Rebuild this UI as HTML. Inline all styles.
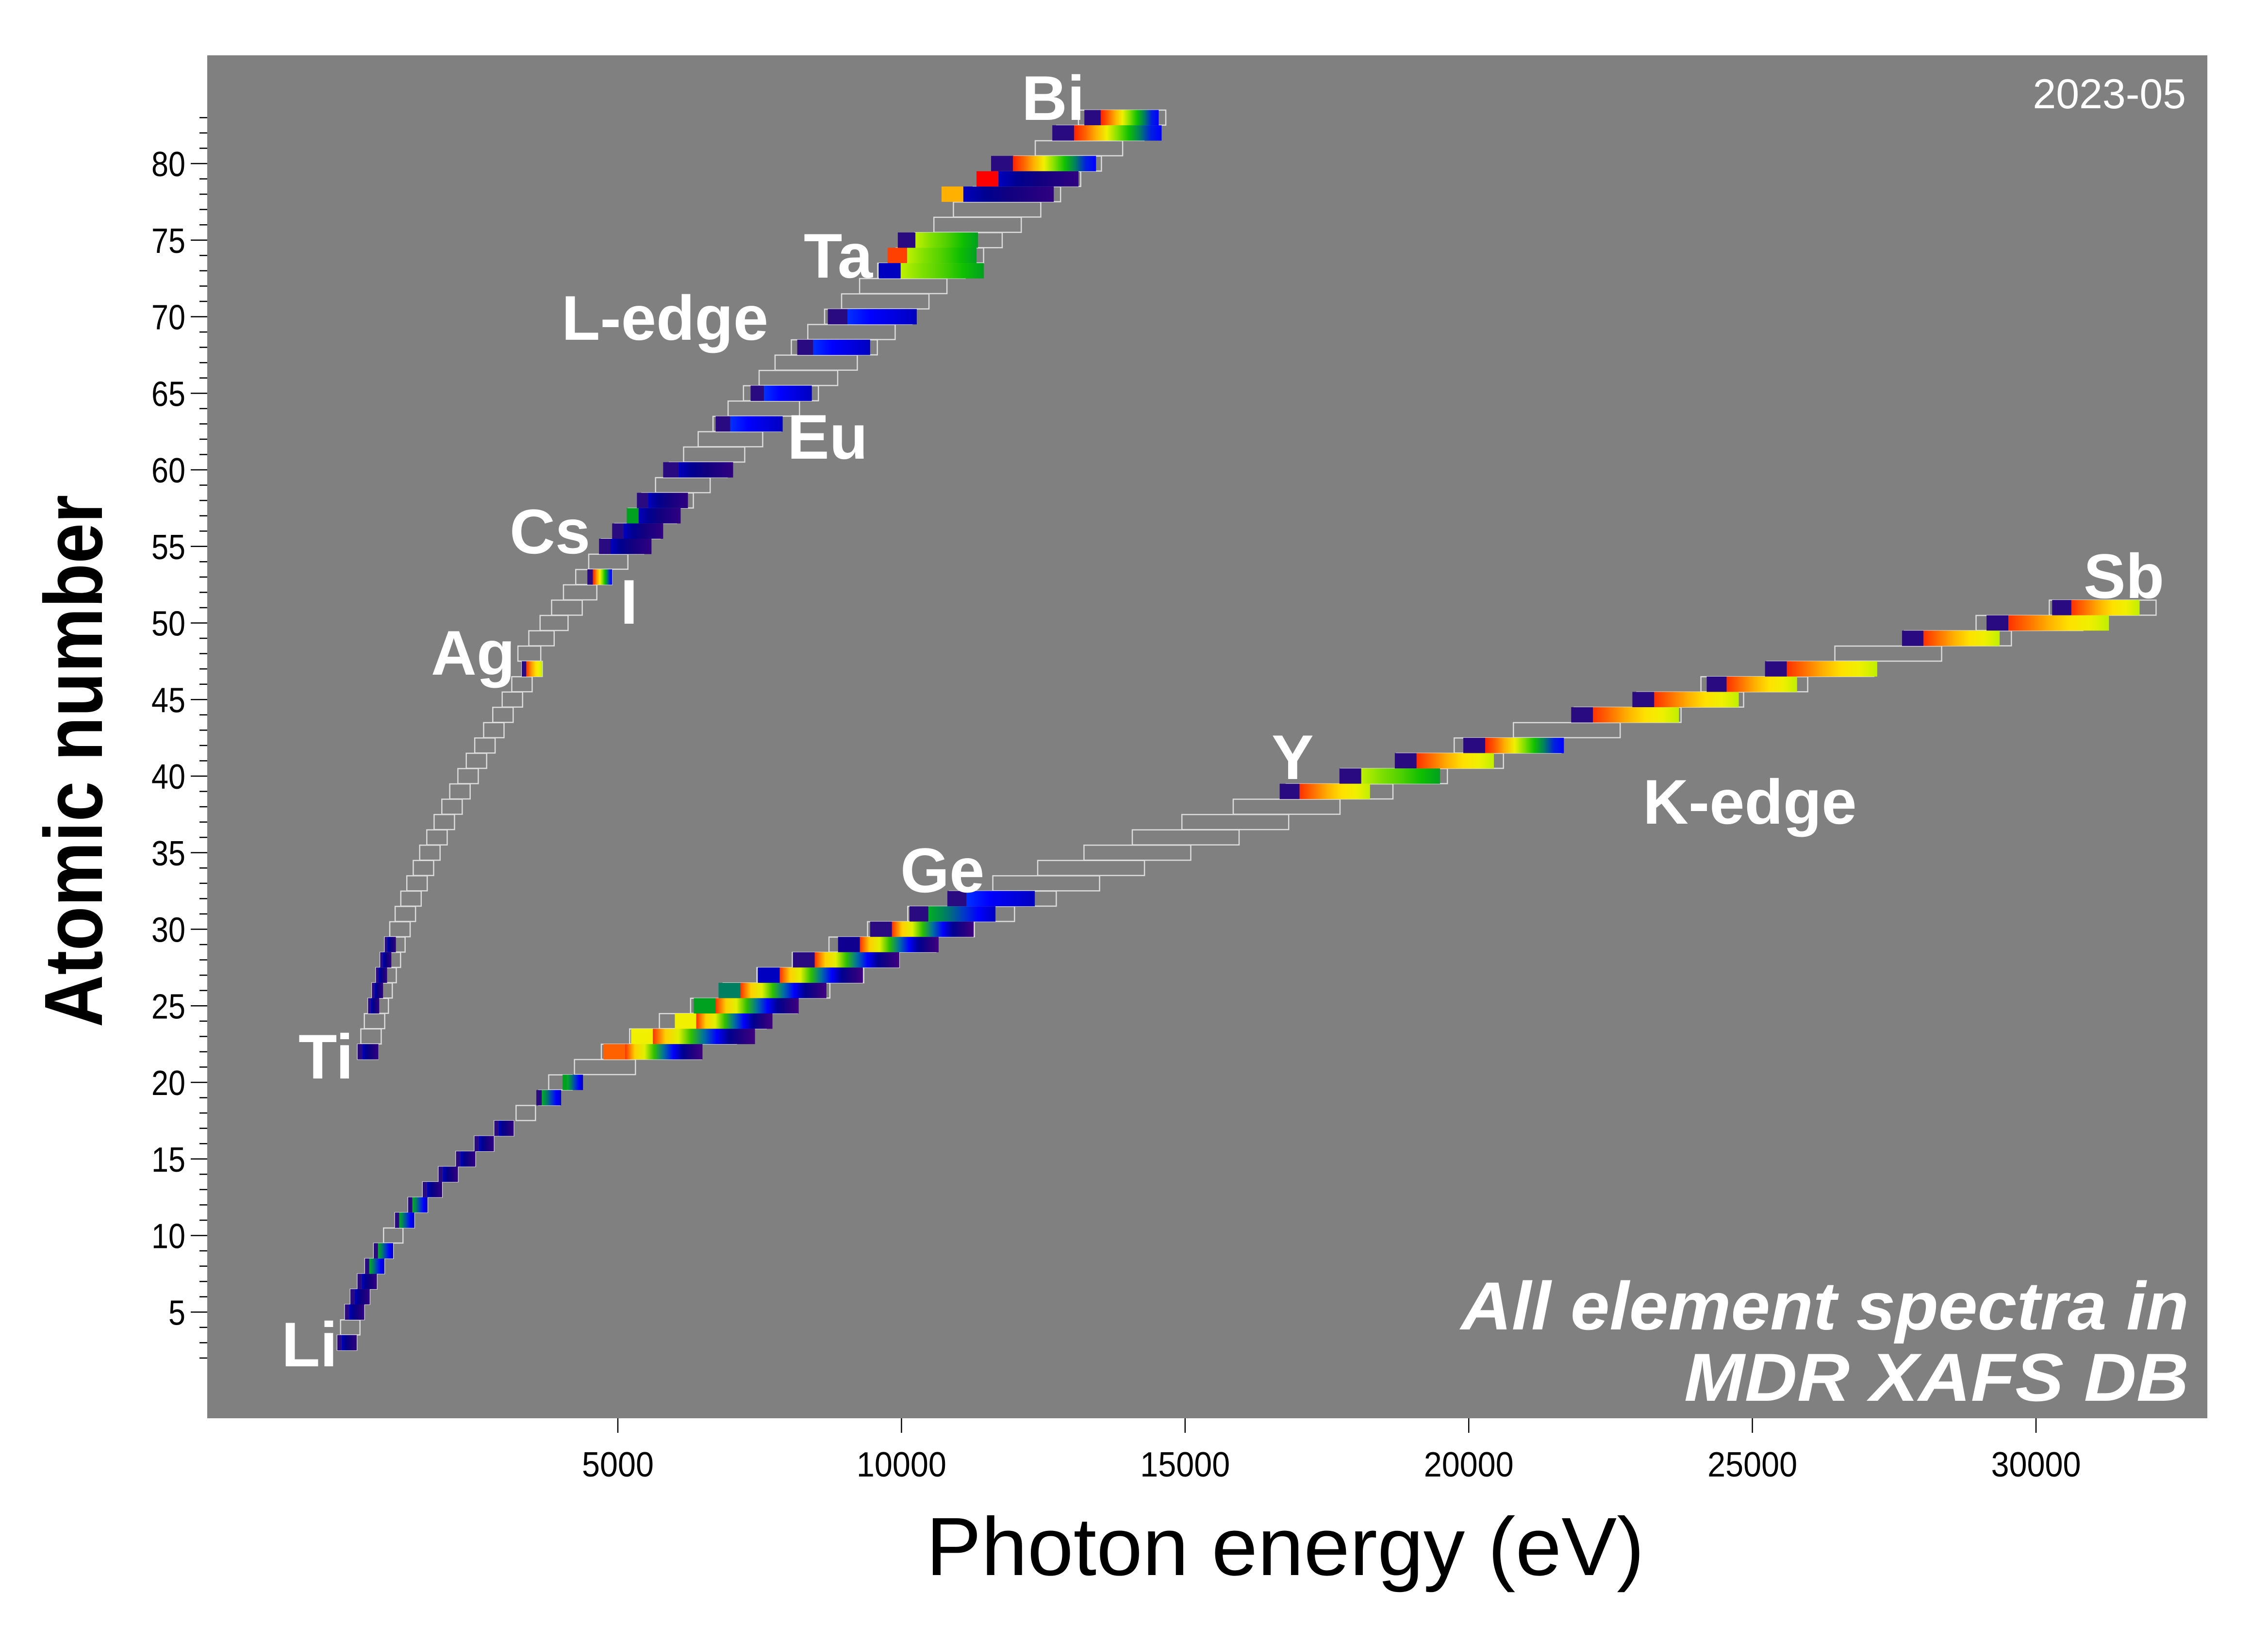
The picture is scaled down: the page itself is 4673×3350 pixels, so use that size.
<!DOCTYPE html>
<html><head><meta charset="utf-8"><style>
html,body{margin:0;padding:0;background:#fff;}
svg{display:block;}
</style></head><body>
<svg id="s" xmlns="http://www.w3.org/2000/svg" width="4673" height="3350" viewBox="0 0 4673 3350">
<rect x="0" y="0" width="4673" height="3350" fill="#fff"/>
<rect x="427" y="114" width="4121" height="2808" fill="#808080"/>
<g id="outl"></g>
<g id="bars"></g>
<g id="ticks" stroke="#000" stroke-width="2.5"></g>
<g id="tl" font-family="Liberation Sans, sans-serif" font-size="72" fill="#000"></g>
<g font-family="Liberation Sans, sans-serif" font-weight="bold" font-size="130" fill="#fff">
<text x="2105" y="247">Bi</text>
<text x="1656" y="572">Ta</text>
<text x="1157" y="700">L-edge</text>
<text x="1622" y="945">Eu</text>
<text x="1050" y="1140">Cs</text>
<text x="1278" y="1285">I</text>
<text x="888" y="1390">Ag</text>
<text x="615" y="2222">Ti</text>
<text x="580" y="2815">Li</text>
<text x="1855" y="1838">Ge</text>
<text x="2620" y="1605">Y</text>
<text x="3385" y="1697">K-edge</text>
<text x="4293" y="1232">Sb</text>
</g>
<text x="4504" y="223" text-anchor="end" font-family="Liberation Sans, sans-serif" font-size="86" fill="#fff">2023-05</text>
<g font-family="Liberation Sans, sans-serif" font-style="italic" font-weight="bold" font-size="140" fill="#fff" text-anchor="end">
<text x="4510" y="2739" textLength="1500" lengthAdjust="spacingAndGlyphs">All element spectra in</text>
<text x="4510" y="2886" textLength="1040" lengthAdjust="spacingAndGlyphs">MDR XAFS DB</text>
</g>
<text x="2648" y="3245" text-anchor="middle" font-family="Liberation Sans, sans-serif" font-size="170" textLength="1480" lengthAdjust="spacingAndGlyphs" fill="#000">Photon energy (eV)</text>
<text transform="translate(210,1568) rotate(-90)" text-anchor="middle" font-family="Liberation Sans, sans-serif" font-weight="bold" font-size="170" textLength="1097" lengthAdjust="spacingAndGlyphs" fill="#000">Atomic number</text>
<defs id="defs"></defs>
</svg>
<script>
var NS="http://www.w3.org/2000/svg";
function X(E){return 688.6+0.11688*E;}
function Y(Z){return 337+(80-Z)*31.55;}
function el(t,a,p){var e=document.createElementNS(NS,t);for(var k in a)e.setAttribute(k,a[k]);p.appendChild(e);return e;}
var defs=document.getElementById('defs'),outl=document.getElementById('outl'),bars=document.getElementById('bars'),ticks=document.getElementById('ticks'),tl=document.getElementById('tl');
var pals={
hot:["#ff2000","#ff6000","#ffb000","#f0f000","#80e000","#10c000","#008060","#0020e0","#0000ff"],
kdec:["#ff3000","#ffd000","#e0f000","#30c000","#0070a0","#0000ff","#000090","#200080","#400080"],
dark:["#0000c0","#000090","#100080","#200080","#300080"],
ylg:["#c0f000","#80e000","#50d000","#10c000","#00a020"],
gb:["#00b020","#008060","#0040c0","#0000ff","#0000c0"],
ry:["#ff3000","#ff7000","#ffb000","#ffe000","#f0f000","#c0f000"],
blu:["#0030ff","#0000ff","#0000e0","#0000c0"]
};
for(var p in pals){var g=el('linearGradient',{id:'g'+p,x1:0,x2:1,y1:0,y2:0},defs);var c=pals[p];for(var i=0;i<c.length;i++)el('stop',{offset:i/(c.length-1),'stop-color':c[i]},g);}
var K={3:55,4:112,5:188,6:284,7:410,8:543,9:697,10:870,11:1071,12:1303,13:1560,14:1839,15:2146,16:2472,17:2822,18:3206,19:3608,20:4038,21:4492,22:4966,23:5465,24:5989,25:6539,26:7112,27:7709,28:8333,29:8979,30:9659,31:10367,32:11103,33:11867,34:12658,35:13474,36:14326,37:15200,38:16105,39:17038,40:17998,41:18986,42:20000,43:21044,44:22117,45:23220,46:24350,47:25514,48:26711,49:27940,50:29200,51:30491};
var L={22:454,23:512,24:574,25:639,26:707,27:778,28:853,29:933,30:1022,31:1117,32:1217,33:1323,34:1436,35:1550,36:1675,37:1804,38:1940,39:2080,40:2223,41:2371,42:2520,43:2677,44:2838,45:3004,46:3173,47:3351,48:3538,49:3730,50:3929,51:4132,52:4341,53:4557,54:4786,55:5012,56:5247,57:5483,58:5723,59:5964,60:6208,61:6459,62:6716,63:6977,64:7243,65:7514,66:7790,67:8071,68:8358,69:8648,70:8944,71:9244,72:9561,73:9881,74:10207,75:10535,76:10871,77:11215,78:11564,79:11919,80:12284,81:12658,82:13035,83:13419};
function orect(x,z,w){el('rect',{x:x,y:Y(z)-15.5,width:w,height:31,fill:'none',stroke:'#dcdcdc','stroke-width':2.5},outl);}
for(var z in K){var E=K[z];var w=E<4000?Math.max(40,0.012*E):Math.min(220,42+(E-4000)*0.17);orect(X(E)-(E<4000?0:30),+z,w);}
for(var z in L){var E=L[z];var w=E<3400?Math.max(42,0.012*E):Math.min(180,42+(E-3351)*0.027);orect(X(E)-(E<3400?5:35),+z,w);}
function bar(z,x0,x1,pre,pal){var y=Y(z)-15.8,h=31.6;var pw=Math.min(45,(x1-x0)*0.22);
el('rect',{x:x0,y:y,width:pw,height:h,fill:pre},bars);
el('rect',{x:x0+pw,y:y,width:x1-x0-pw,height:h,fill:'url(#g'+pal+')'},bars);}
var s=3.003,I="#2a0a80";
var D=[
[51,1408,1468,I,'ry'],[50,1363,1447,I,'ry'],[49,1305,1372,I,'ry'],[47,1211,1288,I,'ry'],[46,1171,1233,I,'ry'],[45,1120,1193,I,'ry'],[44,1078,1152,I,'ry'],[42,1004,1073,I,'hot'],[41,957,1025,I,'ry'],[40,919,988,I,'ylg'],[39,878,940,I,'ry'],
[32,650,710,I,'blu'],[31,624,683,I,'gb'],[30,597,668,I,'kdec'],[29,575,644,'#100090','kdec'],[28,544,617,I,'kdec'],[27,520,592,'#0000c0','kdec'],[26,493,567,'#008060','kdec'],[25,476,548,'#00a020','kdec'],[24,463,530,'#f0f000','kdec'],[23,433,518,'#f0f000','kdec'],[22,414,482,'#ff6000','kdec'],[20,386,400,'#00a020','gb'],[19,368,385,I,'gb'],
[83,744,795,I,'hot'],[82,722,797,I,'hot'],[80,680,752,I,'hot'],[79,670,740,'#ff0000','dark'],[78,646,723,'#ffb000','dark'],[75,616,671,I,'ylg'],[74,609,670,'#ff4000','ylg'],[73,603,675,'#0000c0','ylg'],[70,568,629,I,'blu'],[68,547,597,I,'blu'],[65,515,557,I,'blu'],[63,491,537,I,'blu'],[60,455,503,I,'dark'],[58,437,472,I,'dark'],[57,430,467,'#00a020','dark'],[56,420,455,I,'dark'],[55,411,447,I,'dark'],[53,403,420,I,'hot'],[47,358,372,I,'ry']
];
D.forEach(function(d){bar(d[0],d[1]*s,d[2]*s,d[3],d[4]);});
[3,5,6,7,8,9,11,12,13,14,15,16,17].forEach(function(z){var x=X(K[z]);var w=Math.max(40,0.012*K[z]);bar(z,x,x+w,I,z>7&&z<13?'gb':'dark');});
[22,25,26,27,28,29].forEach(function(z){var x=X(L[z]);bar(z,x-5,x+(z==22?38:18),I,'dark');});
for(var z=2;z<=83;z++){var y=Y(z);var maj=z%5==0;el('line',{x1:maj?393:411,x2:427,y1:y,y2:y},ticks);
if(maj){var a={x:382,y:y+26,'text-anchor':'end'};if(z>=10){a.textLength=70;a.lengthAdjust='spacingAndGlyphs';}else{a.textLength=35;a.lengthAdjust='spacingAndGlyphs';}var t=el('text',a,tl);t.textContent=z;}}
for(var e=5000;e<=30000;e+=5000){var x=X(e);el('line',{x1:x,x2:x,y1:2922,y2:2952},ticks);
var t=el('text',{x:x,y:3042,'text-anchor':'middle',textLength:e<10000?148:185,lengthAdjust:'spacingAndGlyphs'},tl);t.textContent=e;}
</script>
</body></html>
